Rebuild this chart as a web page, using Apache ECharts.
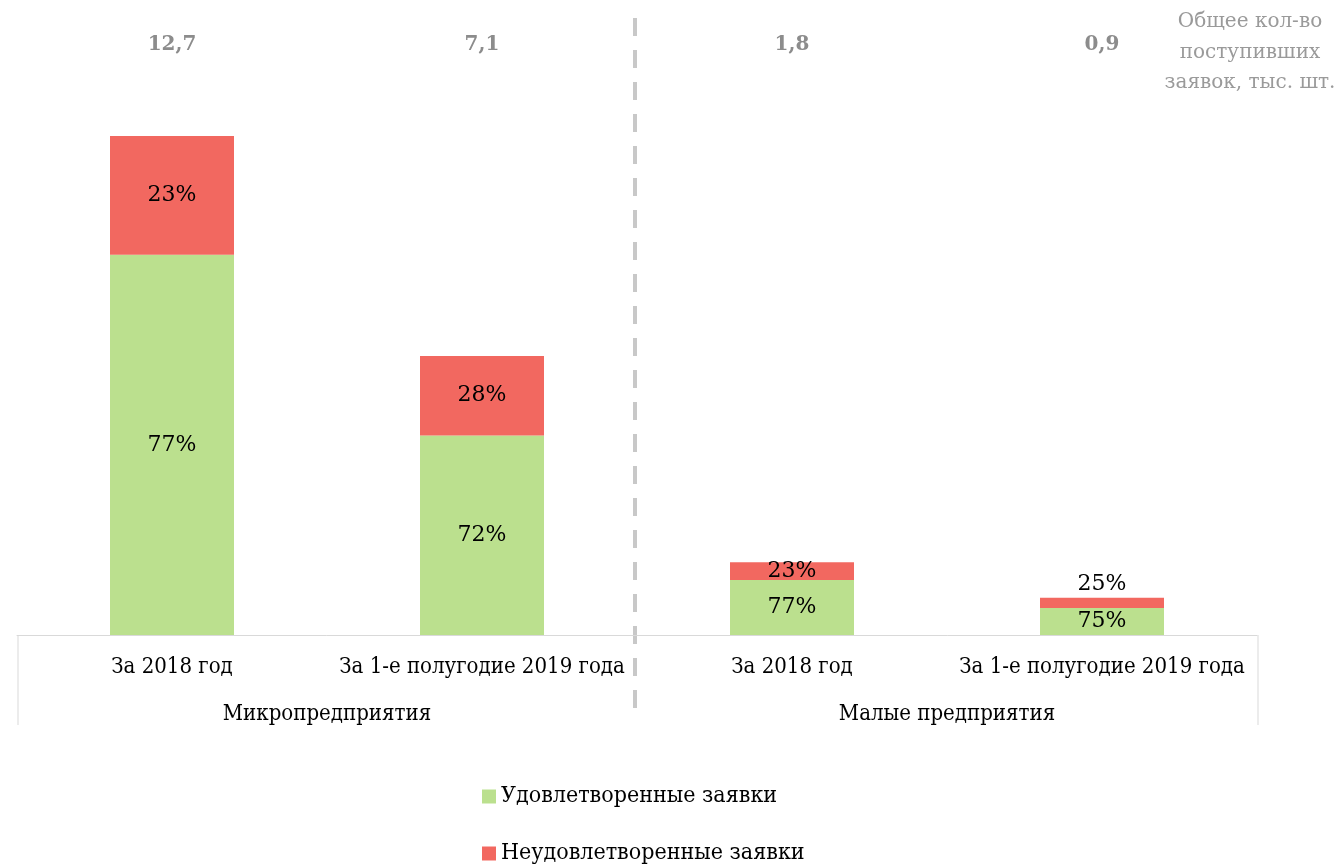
<!DOCTYPE html>
<html>
<head>
<meta charset="utf-8">
<script src="https://cdn.jsdelivr.net/npm/echarts@6/dist/echarts.min.js"></script>
<style>html,body{margin:0;padding:0;background:#fff}#c{width:1340px;height:865px}</style>
</head>
<body>
<div id="c"></div>
<script>
const categories = ['За 2018 год', 'За 1-е полугодие 2019 года', 'За 2018 год', 'За 1-е полугодие 2019 года'];
const groups = ['Микропредприятия', 'Малые предприятия'];
const seriesNames = ['Удовлетворенные заявки', 'Неудовлетворенные заявки'];
const satisfied = [9.68, 5.08, 1.40, 0.69];
const unsatisfied = [3.02, 2.02, 0.45, 0.26];
const satisfiedPct = ['77%', '72%', '77%', '75%'];
const unsatisfiedPct = ['23%', '28%', '23%', '25%'];
const totals = ['12,7', '7,1', '1,8', '0,9'];
const yMax = 12.7;
const noteLines = ['Общее кол-во', 'поступивших', 'заявок, тыс. шт.'];

const SERIF = '"DejaVu Serif", serif';
const COND = '"DejaVu Serif Condensed", "Liberation Serif", serif';
const chart = echarts.init(document.getElementById('c'), null, {renderer: 'canvas'});

const labelStyle = {color: '#000', fontFamily: SERIF, fontSize: 22};
const legendBase = {
  orient: 'horizontal', left: 482, padding: 0, itemWidth: 14, itemHeight: 14,
  icon: 'rect', textStyle: {fontFamily: COND, fontSize: 23, color: '#000'}
};

chart.setOption({
  animation: false,
  grid: {left: 17, right: 83, top: 136, bottom: 230, containLabel: false},
  legend: [
    Object.assign({}, legendBase, {top: 785, data: [seriesNames[0]]}),
    Object.assign({}, legendBase, {top: 842, data: [seriesNames[1]]})
  ],
  xAxis: [{
    type: 'category', data: categories, position: 'bottom',
    axisLine: {show: true, lineStyle: {color: '#d9d9d9', width: 1}},
    axisTick: {show: false},
    axisLabel: {interval: 0, margin: 21, color: '#000', fontFamily: COND, fontSize: 22}
  }, {
    type: 'category', data: groups, position: 'bottom', gridIndex: 0,
    axisLine: {show: false}, axisTick: {show: false},
    axisLabel: {interval: 0, margin: 68, color: '#000', fontFamily: COND, fontSize: 22}
  }],
  yAxis: {type: 'value', min: 0, max: yMax, show: false, splitLine: {show: false}},
  series: [{
    name: seriesNames[0], type: 'bar', stack: 's', barWidth: '40%',
    itemStyle: {color: '#bbe08e'},
    data: satisfied.map((v, i) => ({value: v, label: {show: true, position: 'inside', formatter: satisfiedPct[i], ...labelStyle}}))
  }, {
    name: seriesNames[1], type: 'bar', stack: 's', barWidth: '40%',
    itemStyle: {color: '#f26860'},
    data: unsatisfied.map((v, i) => ({value: v, label: {show: true, position: i === 3 ? 'top' : 'inside', distance: 2, formatter: unsatisfiedPct[i], ...labelStyle}}))
  }]
});

function drawExtras() {
  const centers = categories.map((c, i) => chart.convertToPixel({xAxisIndex: 0}, i));
  const half = (centers[1] - centers[0]) / 2;
  const left = centers[0] - half, right = centers[3] + half, mid = (centers[1] + centers[2]) / 2;
  const base = chart.convertToPixel({yAxisIndex: 0}, 0);
  const els = [];
  totals.forEach((t, i) => {
    els.push({type: 'text', x: centers[i], y: 45, style: {text: t, fill: '#8c8c8c', font: 'bold 20px ' + SERIF, align: 'center', verticalAlign: 'middle'}});
  });
  noteLines.forEach((t, i) => {
    els.push({type: 'text', x: 1250, y: 22 + i * 30.5, style: {text: t, fill: '#9a9a9a', font: '20px ' + SERIF, align: 'center', verticalAlign: 'middle'}});
  });
  [left + 1, right + 1].forEach(x => {
    els.push({type: 'line', shape: {x1: x, y1: base, x2: x, y2: base + 90}, style: {stroke: '#d9d9d9', lineWidth: 1}});
  });
  els.push({type: 'line', shape: {x1: mid - 2, y1: 18, x2: mid - 2, y2: 722}, style: {stroke: '#c8c8c8', lineWidth: 4, lineDash: [18, 14]}});
  chart.setOption({graphic: els});
}
drawExtras();
</script>
</body>
</html>
